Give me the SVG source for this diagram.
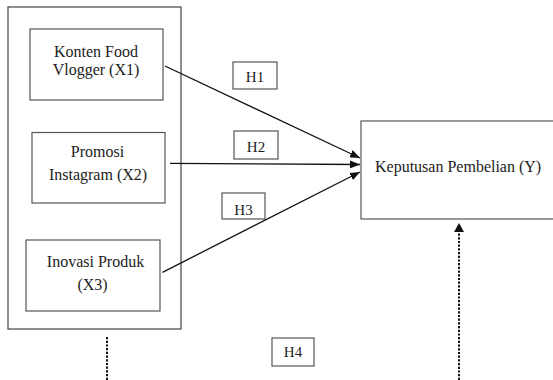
<svg xmlns="http://www.w3.org/2000/svg" width="553" height="380" viewBox="0 0 553 380">
<style>
.box{fill:#fff;stroke:#555;stroke-width:1.2}
.t{font-size:16px;fill:#222;text-anchor:middle}
.h{font-size:15px;fill:#222;text-anchor:middle}
.arr{stroke:#111;stroke-width:1.3;fill:none;marker-end:url(#ah)}
.dot{stroke:#111;stroke-width:2;fill:none;stroke-dasharray:2.2 1.5}
</style>
<defs>
<marker id="ah" viewBox="0 0 10 8" refX="10" refY="4" markerWidth="10" markerHeight="8" markerUnits="userSpaceOnUse" orient="auto">
<path d="M0,0 L10,4 L0,8 Z" fill="#111"/>
</marker>
</defs>
<g font-family="Liberation Serif, Times New Roman, serif">
<g id="outer"><rect x="8" y="7" width="173" height="322" fill="#fff" stroke="#444" stroke-width="1.2"/></g>
<g id="x1"><rect class="box" x="30" y="29" width="133" height="71"/>
<text class="t" x="96" y="56.5" font-family="Liberation Serif">Konten Food</text><text class="t" x="96" y="75" font-family="Liberation Serif">Vlogger (X1)</text></g>
<g id="x2"><rect class="box" x="32" y="132.5" width="133" height="70.5"/>
<text class="t" x="97.5" y="157" font-family="Liberation Serif">Promosi</text><text class="t" x="98" y="180" font-family="Liberation Serif">Instagram (X2)</text></g>
<g id="x3"><rect class="box" x="26" y="240" width="134" height="71"/>
<text class="t" x="95.5" y="267" font-family="Liberation Serif">Inovasi Produk</text><text class="t" x="92.5" y="290" font-family="Liberation Serif">(X3)</text></g>
<g id="y"><rect class="box" x="361" y="121" width="200" height="98"/>
<text class="t" x="375" y="172" style="text-anchor:start" font-family="Liberation Serif">Keputusan Pembelian (Y)</text></g>
<g id="h1"><rect class="box" x="233" y="62" width="44" height="27"/><text class="h" x="255" y="81.5" font-family="Liberation Serif">H1</text></g>
<g id="h2"><rect class="box" x="234" y="131" width="44" height="28"/><text class="h" x="256" y="151.5" font-family="Liberation Serif">H2</text></g>
<g id="h3"><rect class="box" x="222" y="193" width="43" height="26"/><text class="h" x="243.5" y="214.5" font-family="Liberation Serif">H3</text></g>
<g id="h4"><rect class="box" x="272" y="338" width="42" height="28"/><text class="h" x="293" y="357" font-family="Liberation Serif">H4</text></g>
</g>
<g id="connectors">
<line class="arr" x1="165" y1="66" x2="360" y2="158"/>
<line class="arr" x1="170" y1="163.3" x2="360" y2="164.5"/>
<line class="arr" x1="162.5" y1="272.3" x2="360" y2="172"/>
<line class="dot" x1="107" y1="337" x2="107" y2="380"/>
<line class="dot" x1="459" y1="380" x2="459" y2="231"/>
<path d="M454,232 L459,223 L464,232 Z" fill="#111"/>
</g>
</svg>
